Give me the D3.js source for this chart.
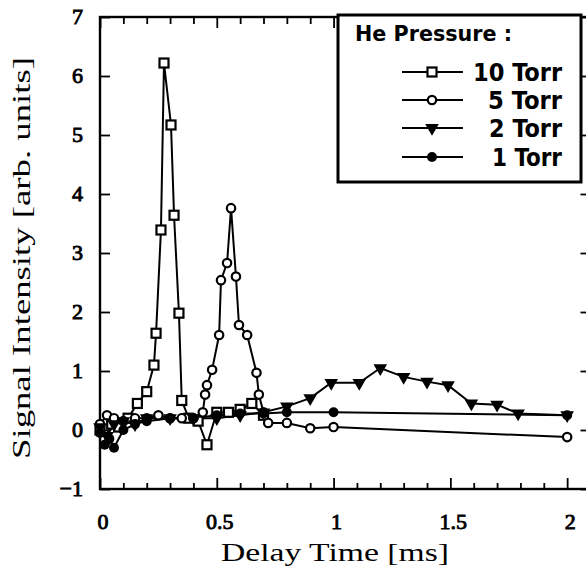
<!DOCTYPE html>
<html>
<head>
<meta charset="utf-8">
<script src="https://cdn.jsdelivr.net/npm/d3@7"></script>
<style>
    body { margin: 0; background: #fff; }
    svg { display: block; }
</style>
</head>
<body>
<div id="container"></div>
<script>
// data
const xTicks = [0, 0.5, 1, 1.5, 2];
const xTickLabels = ["0", "0.5", "1", "1.5", "2"];
const yTicks = [-1, 0, 1, 2, 3, 4, 5, 6, 7];

const seriesNames = ["10 Torr", "5 Torr", "2 Torr", "1 Torr"];

const t10 = [0, 0.02, 0.05, 0.08, 0.12, 0.16, 0.2, 0.231, 0.24, 0.261, 0.274, 0.304, 0.317, 0.338, 0.35, 0.38, 0.42, 0.458, 0.5, 0.55, 0.6, 0.65, 0.7];
const s10 = [0.0, -0.15, 0.1, 0.05, 0.2, 0.45, 0.65, 1.1, 1.64, 3.39, 6.22, 5.17, 3.64, 1.98, 0.5, 0.2, 0.15, -0.25, 0.3, 0.3, 0.35, 0.45, 0.25];

const t5 = [0, 0.03, 0.06, 0.1, 0.15, 0.2, 0.25, 0.3, 0.35, 0.4, 0.44, 0.45, 0.458, 0.48, 0.51, 0.518, 0.544, 0.561, 0.582, 0.595, 0.63, 0.67, 0.68, 0.7, 0.72, 0.8, 0.9, 1.0, 2.0];
const s5 = [0.1, 0.25, 0.2, 0.15, 0.2, 0.2, 0.25, 0.2, 0.2, 0.2, 0.3, 0.6, 0.76, 1.02, 1.61, 2.54, 2.83, 3.76, 2.6, 1.78, 1.61, 0.97, 0.6, 0.3, 0.12, 0.12, 0.03, 0.05, -0.12];

const t2 = [0, 0.03, 0.06, 0.1, 0.15, 0.2, 0.3, 0.4, 0.5, 0.6, 0.7, 0.8, 0.9, 0.99, 1.11, 1.2, 1.3, 1.4, 1.49, 1.59, 1.7, 1.79, 2.0];
const s2 = [0.05, -0.1, 0.1, 0.15, 0.1, 0.2, 0.2, 0.2, 0.2, 0.25, 0.3, 0.4, 0.54, 0.8, 0.8, 1.05, 0.9, 0.82, 0.76, 0.45, 0.43, 0.28, 0.25];

const t1 = [0, 0.02, 0.04, 0.06, 0.1, 0.15, 0.2, 0.3, 0.4, 0.5, 0.6, 0.7, 0.8, 1.0, 2.0];
const s1 = [-0.05, -0.25, -0.15, -0.3, 0.0, 0.1, 0.15, 0.2, 0.2, 0.25, 0.28, 0.28, 0.3, 0.3, 0.25];

const width = 586, height = 573;

const svg = d3.select("#container")
    .append("svg")
    .attr("width", width)
    .attr("height", height);

const xScale = d3.scaleLinear().domain([0, 2.1]).range([100, 590.5]);
const yScale = d3.scaleLinear().domain([-1, 7]).range([489, 17]);

const serif = "'Liberation Serif', 'Times New Roman', 'DejaVu Serif', 'Noto Serif', serif";
const narrow = "'Liberation Sans Narrow', 'DejaVu Sans Condensed', 'Roboto', 'Liberation Sans', sans-serif";

// FRAME
svg.append("rect")
    .attr("x", xScale(0))
    .attr("y", yScale(7))
    .attr("width", xScale(2.1) - xScale(0))
    .attr("height", yScale(-1) - yScale(7))
    .attr("fill", "none")
    .attr("stroke", "#000")
    .attr("stroke-width", 2.4);

// inward ticks, drawn with the library axes
const minorX = d3.range(0, 2.11, 0.1).map(d => +d.toFixed(1));
const isMajor = d => Math.abs(d * 2 - Math.round(d * 2)) < 1e-6;

const bottomAxis = svg.append("g")
    .attr("transform", "translate(0," + yScale(-1) + ")")
    .call(d3.axisBottom(xScale).tickValues(minorX).tickSize(-7).tickFormat(""));
bottomAxis.select(".domain").remove();
bottomAxis.selectAll(".tick line")
    .attr("y2", d => isMajor(d) ? -11 : -6)
    .attr("stroke-width", 1.8);

const topAxis = svg.append("g")
    .attr("transform", "translate(0," + yScale(7) + ")")
    .call(d3.axisTop(xScale).tickValues(minorX).tickSize(-7).tickFormat(""));
topAxis.select(".domain").remove();
topAxis.selectAll(".tick line")
    .attr("y2", d => isMajor(d) ? 11 : 7)
    .attr("stroke-width", 1.8);

const leftAxis = svg.append("g")
    .attr("transform", "translate(" + xScale(0) + ",0)")
    .call(d3.axisLeft(yScale).tickValues(yTicks).tickSize(-10).tickFormat(""));
leftAxis.select(".domain").remove();
leftAxis.selectAll(".tick line").attr("stroke-width", 1.8);

const rightAxis = svg.append("g")
    .attr("transform", "translate(" + xScale(2.1) + ",0)")
    .call(d3.axisRight(yScale).tickValues(yTicks).tickSize(-10).tickFormat(""));
rightAxis.select(".domain").remove();
rightAxis.selectAll(".tick line").attr("stroke-width", 1.8);

// tick labels (serif, thickened with a thin stroke)
svg.append("g").selectAll("text")
    .data(xTicks)
    .enter()
    .append("text")
    .attr("x", d => xScale(d) + 3)
    .attr("y", 529)
    .attr("text-anchor", "middle")
    .attr("stroke", "#000")
    .attr("stroke-width", 0.9)
    .style("font-family", serif)
    .style("font-size", "22px")
    .text((d, i) => xTickLabels[i]);

svg.append("g").selectAll("text")
    .data(yTicks)
    .enter()
    .append("text")
    .attr("x", 83)
    .attr("y", d => yScale(d) + 7)
    .attr("text-anchor", "end")
    .attr("stroke", "#000")
    .attr("stroke-width", 0.9)
    .style("font-family", serif)
    .style("font-size", "22px")
    .text(d => d < 0 ? "\u2212" + Math.abs(d) : d);

// axis titles
svg.append("text")
    .attr("x", 335)
    .attr("y", 561)
    .attr("text-anchor", "middle")
    .attr("textLength", 228)
    .attr("lengthAdjust", "spacingAndGlyphs")
    .style("font-family", serif)
    .style("font-size", "26px")
    .text("Delay Time [ms]");

svg.append("text")
    .attr("transform", "rotate(-90)")
    .attr("x", -258)
    .attr("y", 30)
    .attr("text-anchor", "middle")
    .attr("textLength", 402)
    .attr("lengthAdjust", "spacingAndGlyphs")
    .style("font-family", serif)
    .style("font-size", "26px")
    .text("Signal Intensity [arb. units]");

// SERIES
const line = d3.line()
    .x(d => xScale(d[0]))
    .y(d => yScale(d[1]));

const series = [
    { name: seriesNames[0], pts: d3.zip(t10, s10), mark: "square", w: 89 },
    { name: seriesNames[1], pts: d3.zip(t5, s5), mark: "circle", w: 74 },
    { name: seriesNames[2], pts: d3.zip(t2, s2), mark: "triangle", w: 73 },
    { name: seriesNames[3], pts: d3.zip(t1, s1), mark: "dot", w: 70 }
];

function drawMark(g, mark) {
    if (mark === "square") {
        g.append("rect").attr("x", -4.5).attr("y", -4.5).attr("width", 9).attr("height", 9)
            .attr("fill", "#fff").attr("stroke", "#000").attr("stroke-width", 2.2);
    } else if (mark === "circle") {
        g.append("circle").attr("r", 4.2)
            .attr("fill", "#fff").attr("stroke", "#000").attr("stroke-width", 2.2);
    } else if (mark === "triangle") {
        g.append("path").attr("d", d3.symbol().type(d3.symbolTriangle).size(80))
            .attr("transform", "rotate(180)")
            .attr("fill", "#000");
    } else {
        g.append("circle").attr("r", 5).attr("fill", "#000");
    }
}

const plot = svg.append("g");

series.forEach(s => {
    plot.append("path")
        .attr("fill", "none")
        .attr("stroke", "#000")
        .attr("stroke-width", 2)
        .attr("d", line(s.pts));
});

series.forEach(s => {
    plot.append("g").selectAll("g")
        .data(s.pts)
        .enter()
        .append("g")
        .attr("transform", d => "translate(" + xScale(d[0]) + "," + yScale(d[1]) + ")")
        .each(function () { drawMark(d3.select(this), s.mark); });
});

// LEGEND
const legend = svg.append("g");

legend.append("rect")
    .attr("x", 338)
    .attr("y", 15)
    .attr("width", 243)
    .attr("height", 167)
    .attr("fill", "#fff")
    .attr("stroke", "#000")
    .attr("stroke-width", 3);

legend.append("text")
    .attr("x", 355)
    .attr("y", 41)
    .attr("textLength", 157)
    .attr("lengthAdjust", "spacingAndGlyphs")
    .style("font-family", narrow)
    .style("font-size", "22px")
    .style("font-weight", "900")
    .text("He Pressure :");

const rowY = [72, 100, 128, 157];

series.forEach((s, i) => {
    const row = legend.append("g").attr("transform", "translate(0," + rowY[i] + ")");
    row.append("line")
        .attr("x1", 402).attr("x2", 463)
        .attr("stroke", "#000").attr("stroke-width", 2);
    drawMark(row.append("g").attr("transform", "translate(432,0)"), s.mark);
    row.append("text")
        .attr("x", 562)
        .attr("y", 9)
        .attr("text-anchor", "end")
        .attr("textLength", s.w)
        .attr("lengthAdjust", "spacingAndGlyphs")
        .style("font-family", narrow)
        .style("font-size", "25px")
        .style("font-weight", "900")
        .text(s.name);
});
</script>
</body>
</html>
